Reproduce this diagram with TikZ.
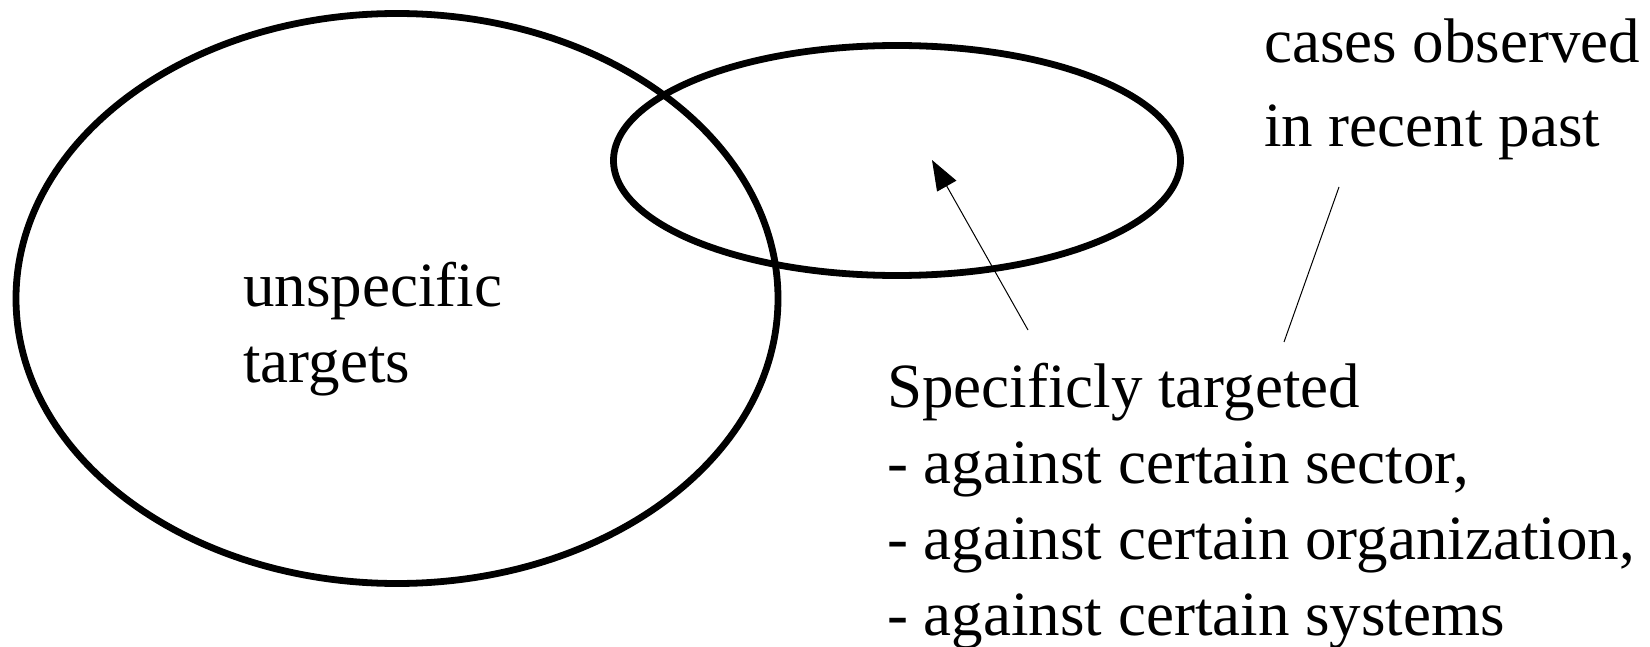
\documentclass[tikz,border=0pt]{standalone}
\usepackage{fontspec}
\setmainfont{Liberation Serif}
\usepackage{tikz}
\usetikzlibrary{arrows.meta, shapes.geometric, positioning}

\begin{document}
\begin{tikzpicture}[x=1pt, y=-1pt,
        set/.style={ellipse, draw, line width=6.8pt, inner sep=0pt},
        label/.style={inner sep=0pt, anchor=base west, align=left, font={\fontsize{63}{76}\selectfont}},
        pointer/.style={line width=1pt},
        arrow/.style={pointer, -{Triangle[length=30pt, width=22pt]}}
    ]
        \useasboundingbox (0,0) rectangle (1650,647);

        % Sets
        \node (unspec) [set, minimum width=762pt, minimum height=570pt] at (397, 298.5) {};
        \node (recent) [set, minimum width=567pt, minimum height=230pt] at (897, 160.5) {};

        % Labels (placed by the baseline of their last line)
        \node (unspec_txt) [label] at (243, 382) {unspecific\\targets};
        \node (recent_txt) [label, font={\fontsize{63}{84}\selectfont}] at (1264, 147) {cases observed\\in recent past};
        \node (spec_txt) [label] at (887, 635) {Specificly targeted\\- against certain sector,\\- against certain organization,\\- against certain systems};

        % Pointers
        \coordinate (spec_tail) at (1028, 330);
        \coordinate (spec_tip) at (932, 160);
        \coordinate (recent_tail) at (1284, 342);
        \coordinate (recent_head) at (1339, 187);

        \draw [arrow] (spec_tail) -- (spec_tip);
        \draw [pointer] (recent_tail) -- (recent_head);
    \end{tikzpicture}
\end{document}
